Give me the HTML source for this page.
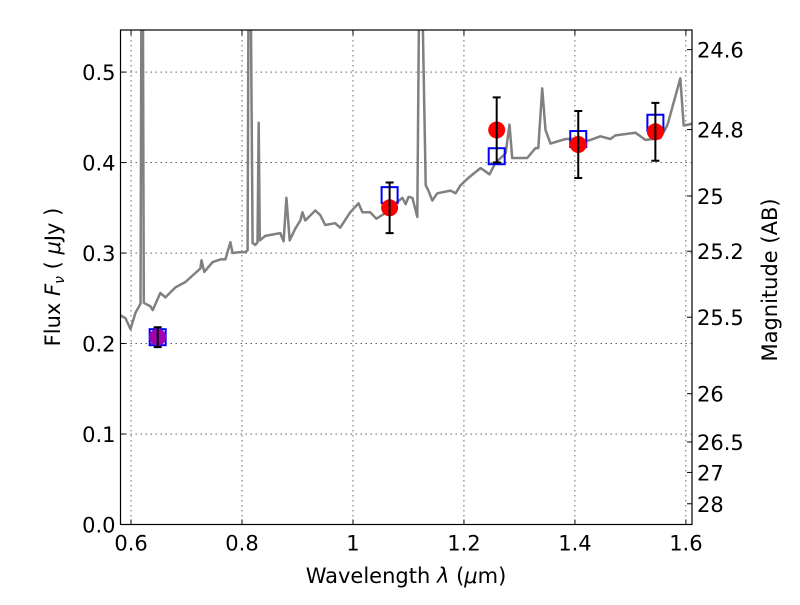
<!DOCTYPE html>
<html><head><meta charset="utf-8"><style>
body{margin:0;background:#fff;}
svg text{font-family:"DejaVu Sans","Liberation Sans",sans-serif;fill:#000;}
</style></head><body>
<svg id="chart" width="800" height="600" xmlns="http://www.w3.org/2000/svg">
<rect width="800" height="600" fill="#fff"/>
<g id="grid"></g>
<g id="spec"></g>
<g id="pts"></g>
<rect x="120.5" y="30" width="571.5" height="494.5" fill="none" stroke="#000" stroke-width="1.2"/>
<g id="axes"></g>
<text x="406" y="583" font-size="21" text-anchor="middle">Wavelength  <tspan font-style="italic">λ</tspan> (<tspan font-style="italic">μ</tspan>m)</text>
<text transform="translate(60,277) rotate(-90)" font-size="21" text-anchor="middle">Flux  <tspan font-style="italic">F</tspan><tspan font-style="italic" font-size="14" dy="4">ν</tspan><tspan dy="-4">  ( </tspan><tspan font-style="italic">μ</tspan>Jy )</text>
<text transform="translate(777,280) rotate(-90)" font-size="21" text-anchor="middle">Magnitude (AB)</text>
</svg>
<script>
const specLam=[0.581,0.590,0.599,0.608,0.617,0.619,0.621,0.623,0.635,0.639,0.653,0.662,0.680,0.698,0.716,0.725,0.727,0.732,0.747,0.761,0.770,0.779,0.783,0.797,0.806,0.810,0.812,0.815,0.819,0.824,0.828,0.830,0.832,0.842,0.869,0.875,0.880,0.886,0.896,0.905,0.909,0.914,0.932,0.941,0.950,0.968,0.977,0.995,1.010,1.017,1.031,1.042,1.058,1.077,1.089,1.095,1.100,1.107,1.116,1.120,1.123,1.131,1.136,1.143,1.152,1.176,1.185,1.194,1.208,1.230,1.246,1.257,1.275,1.282,1.287,1.314,1.329,1.334,1.341,1.347,1.356,1.383,1.401,1.410,1.428,1.446,1.464,1.473,1.509,1.527,1.554,1.567,1.590,1.596,1.612];
const specFlux=[0.231,0.228,0.216,0.234,0.244,0.65,0.65,0.245,0.241,0.237,0.256,0.251,0.262,0.268,0.278,0.283,0.292,0.279,0.290,0.293,0.293,0.312,0.300,0.301,0.301,0.303,0.65,0.65,0.311,0.309,0.312,0.444,0.314,0.319,0.322,0.313,0.361,0.314,0.327,0.336,0.345,0.336,0.347,0.342,0.331,0.333,0.328,0.345,0.355,0.345,0.345,0.338,0.344,0.355,0.361,0.354,0.362,0.361,0.340,0.65,0.65,0.375,0.369,0.358,0.366,0.369,0.366,0.375,0.383,0.394,0.387,0.400,0.410,0.442,0.405,0.405,0.416,0.416,0.482,0.436,0.421,0.426,0.426,0.422,0.425,0.429,0.426,0.430,0.433,0.425,0.427,0.442,0.493,0.441,0.443];
const obsLam=[0.648,1.066,1.259,1.406,1.545];
const obsFlux=[0.207,0.350,0.436,0.420,0.434];
const obsErr=[0.011,0.028,0.036,0.037,0.032];
const modelFlux=[0.207,0.364,0.407,0.426,0.444];
const xTicks=[0.6,0.8,1.0,1.2,1.4,1.6];
const xTickLabels=["0.6","0.8","1","1.2","1.4","1.6"];
const yTicks=[0,0.1,0.2,0.3,0.4,0.5];
const yTickLabels=["0.0","0.1","0.2","0.3","0.4","0.5"];
const magTicks=[24.6,24.8,25,25.2,25.5,26,26.5,27,28];
const magLabels=["24.6","24.8","25","25.2","25.5","26","26.5","27","28"];

const X0=120.5,X1=692,Y0=524.5,Y1=30;
const xmin=0.581,xmax=1.611,ymin=0,ymax=0.5465;
const sx=v=>X0+(v-xmin)/(xmax-xmin)*(X1-X0);
const sy=v=>Y0-(v-ymin)/(ymax-ymin)*(Y0-Y1);
const NS="http://www.w3.org/2000/svg";
function mk(tag,attrs,parent){const e=document.createElementNS(NS,tag);for(const k in attrs)e.setAttribute(k,attrs[k]);parent.appendChild(e);return e;}
const grid=document.getElementById('grid'),axes=document.getElementById('axes');
xTicks.forEach((t,i)=>{
  const x=sx(t);
  const g=mk('line',{x1:x,x2:x,y1:Y1,y2:Y0,stroke:'#000','stroke-width':0.6,'stroke-dasharray':'1.5,3.5'},grid);
  
  
  mk('line',{x1:x,x2:x,y1:Y0,y2:Y0-5,stroke:'#000'},axes);
  mk('line',{x1:x,x2:x,y1:Y1,y2:Y1+5,stroke:'#000'},axes);
  const tx=mk('text',{x:x,y:Y0+26,'font-size':21,'text-anchor':'middle'},axes);
  tx.textContent=xTickLabels[i];
  
  
});
yTicks.forEach((t,i)=>{
  const y=sy(t);
  const g=mk('line',{x1:X0,x2:X1,y1:y,y2:y,stroke:'#000','stroke-width':0.6,'stroke-dasharray':'1.5,3.5'},grid);
  
  
  mk('line',{x1:X0,x2:X0+5,y1:y,y2:y,stroke:'#000'},axes);
  const tx=mk('text',{x:X0-5,y:y+8,'font-size':21,'text-anchor':'end'},axes);
  tx.textContent=yTickLabels[i];
  
  
});
magTicks.forEach((m,i)=>{
  const y=sy(Math.pow(10,(23.9-m)/2.5));
  mk('line',{x1:X1,x2:X1-5,y1:y,y2:y,stroke:'#000'},axes);
  const tx=mk('text',{x:X1+5,y:y+8,'font-size':21,'text-anchor':'start'},axes);
  tx.textContent=magLabels[i];
  
  
});
const spec=document.getElementById('spec');
const clip=mk('clipPath',{id:'pc'},spec);mk('rect',{x:X0,y:Y1,width:X1-X0,height:Y0-Y1},clip);
let d='';specLam.forEach((l,i)=>{d+=(i?'L':'M')+sx(l).toFixed(1)+','+sy(specFlux[i]).toFixed(1);});
const sp=mk('path',{d:d,fill:'none',stroke:'#808080','stroke-width':2.5,'stroke-linejoin':'round','clip-path':'url(#pc)'},spec);


const pts=document.getElementById('pts');
obsLam.forEach((l,i)=>{
  const x=sx(l);
  const s=mk('rect',{x:x-8,y:sy(modelFlux[i])-8,width:16,height:16,fill:'none',stroke:'#0000ff','stroke-width':2},pts);
  
  
  const c=mk('circle',{cx:x,cy:sy(obsFlux[i]),r:8.5,fill:i===0?'#a000b0':'#ff0000'},pts);
  
  
  const yt=sy(obsFlux[i]+obsErr[i]),yb=sy(obsFlux[i]-obsErr[i]);
  const e=mk('path',{d:`M${x},${yt}L${x},${yb}M${x-4},${yt}L${x+4},${yt}M${x-4},${yb}L${x+4},${yb}`,stroke:'#000','stroke-width':2,fill:'none'},pts);
  
  
});
</script>
</body></html>
